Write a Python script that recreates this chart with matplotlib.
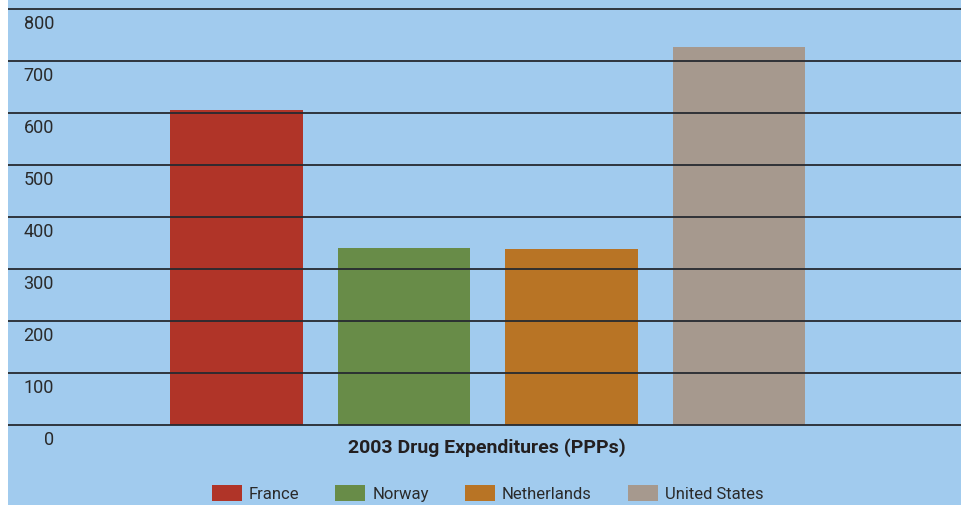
import matplotlib
matplotlib.use("Agg")
import matplotlib.pyplot as plt
from matplotlib.patches import Patch
from matplotlib import font_manager as fm
import matplotlib.transforms as mtransforms

countries = ["France", "Norway", "Netherlands", "United States"]
values = [606, 341, 339, 727]
colors = ["#b03428", "#688c48", "#b87425", "#a6998e"]
yticks = [0, 100, 200, 300, 400, 500, 600, 700, 800]
title = "2003 Drug Expenditures (PPPs)"

names = {f.name for f in fm.fontManager.ttflist}
fam = "Liberation Sans Narrow" if "Liberation Sans Narrow" in names else "Roboto"
plt.rcParams["font.family"] = [fam, "DejaVu Sans"]

W, H = 962, 505
fig = plt.figure(figsize=(W / 100, H / 100), dpi=100, facecolor="white")
ax = fig.add_axes([8 / W, 0, (W - 8) / W, 1])
bg = "#a1cbee"
ax.set_facecolor(bg)

x = list(range(len(countries)))
ax.bar(x, values, width=0.794, color=colors, zorder=2)

# y: 0 at 425px, 52px per 100
px_per_unit = 0.52
ax.set_ylim(-(H - 425) / px_per_unit, 425 / px_per_unit)
sp = 167.5
x0 = 236.5
ax.set_xlim((8 - x0) / sp, (W - x0) / sp)

for v in yticks:
    ax.axhline(v, color="#262a30", lw=1.3, zorder=3)

ax.set_yticks([])
ax.set_xticks([])
for s in ax.spines.values():
    s.set_visible(False)

offset = mtransforms.ScaledTranslation(0, -15 / 100, fig.dpi_scale_trans)
for v in yticks:
    ax.text(54 / W, v, str(v), transform=mtransforms.blended_transform_factory(fig.transFigure, ax.transData) + offset,
            ha="right", va="center", fontsize=13, color="#2a2a2a")

fig.text(487 / W, 1 - 448 / H, title, ha="center", va="center", fontsize=14,
         fontweight="bold", color="#231f20")

handles = [Patch(facecolor=c, edgecolor="none", label=n) for c, n in zip(colors, countries)]
fig.legend(handles=handles, loc="center", bbox_to_anchor=(487.5 / W, 1 - 493.5 / H), ncol=4,
           frameon=False, fontsize=12, handlelength=1.8, handleheight=1.02,
           handletextpad=0.42, columnspacing=2.16, labelcolor="#2a2a2a", borderpad=0)

fig.savefig("out.png", dpi=100, facecolor="white")
